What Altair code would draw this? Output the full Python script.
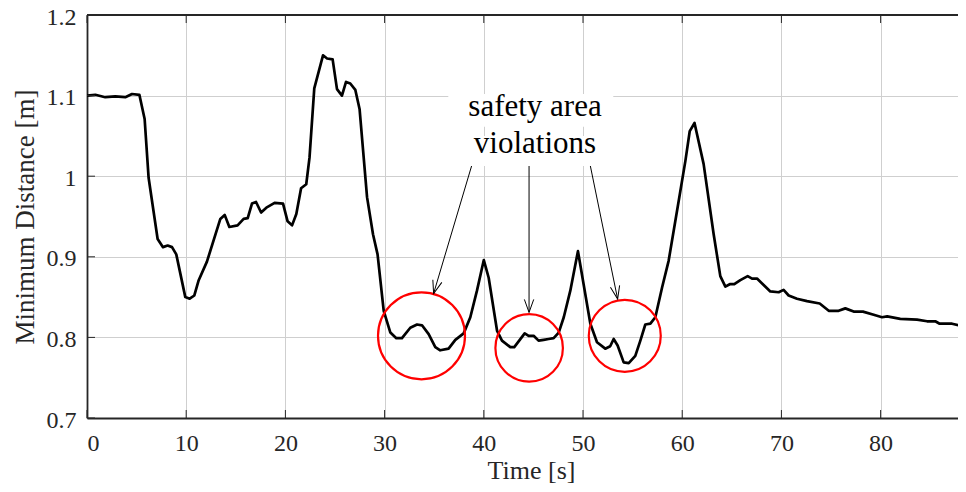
import math
import altair as alt
import pandas as pd

# ---- data ----
time_s = [0, 0.84, 1.84, 2.85, 3.86, 4.54, 5.28, 5.81, 6.21, 7.12, 7.66, 8.13, 8.57, 9.0,
          9.91, 10.35, 10.82, 11.26, 12.09, 13.44, 13.88, 14.35, 15.18, 15.79, 16.2, 16.63,
          17.04, 17.55, 18.08, 18.91, 19.76, 20.22, 20.67, 21.1, 21.58, 22.1, 22.43, 22.91,
          23.79, 24.2, 24.76, 25.2, 25.7, 26.11, 26.54, 27.05, 27.48, 28.23, 28.83, 29.29,
          29.91, 30.58, 31.18, 31.75, 32.59, 33.27, 33.77, 34.44, 35.11, 35.61, 36.45, 37.13,
          37.97, 38.64, 39.31, 40.0, 40.49, 41.34, 41.83, 42.67, 43.07, 43.51, 44.12, 44.52,
          45.02, 45.52, 46.03, 46.53, 47.04, 47.55, 48.06, 48.72, 49.49, 50.06, 50.74, 51.41,
          52.24, 52.74, 53.09, 53.49, 54.1, 54.61, 55.27, 55.78, 56.28, 56.79, 57.29, 57.97,
          58.63, 59.64, 60.32, 60.76, 61.24, 62.16, 63.17, 63.84, 64.35, 64.79, 65.25, 65.86,
          66.6, 67.04, 67.54, 68.21, 68.88, 69.72, 70.22, 70.73, 71.57, 72.58, 73.86, 74.77,
          75.77, 76.44, 77.28, 78.22, 79.3, 80.14, 80.66, 81.98, 83.67, 84.68, 85.51, 85.95,
          87.2, 88.2, 88.63]
min_dist = [1.100, 1.101, 1.098, 1.099, 1.098, 1.102, 1.101, 1.071, 0.998, 0.922, 0.912, 0.914,
            0.912, 0.903, 0.850, 0.848, 0.852, 0.871, 0.894, 0.947, 0.952, 0.937, 0.939, 0.947,
            0.948, 0.966, 0.968, 0.955, 0.961, 0.967, 0.966, 0.944, 0.939, 0.953, 0.985, 0.990,
            1.023, 1.109, 1.150, 1.146, 1.145, 1.108, 1.100, 1.117, 1.115, 1.107, 1.083, 0.974,
            0.928, 0.903, 0.833, 0.806, 0.799, 0.799, 0.812, 0.816, 0.815, 0.804, 0.788, 0.784,
            0.786, 0.797, 0.805, 0.825, 0.858, 0.896, 0.874, 0.808, 0.796, 0.788, 0.788, 0.795,
            0.805, 0.802, 0.802, 0.796, 0.797, 0.798, 0.799, 0.806, 0.825, 0.858, 0.907, 0.866,
            0.817, 0.794, 0.786, 0.789, 0.798, 0.790, 0.769, 0.768, 0.777, 0.796, 0.816, 0.817,
            0.825, 0.862, 0.895, 0.969, 1.019, 1.056, 1.066, 1.015, 0.928, 0.876, 0.863, 0.866,
            0.866, 0.871, 0.876, 0.873, 0.873, 0.865, 0.857, 0.856, 0.859, 0.852, 0.848, 0.845,
            0.842, 0.833, 0.833, 0.836, 0.832, 0.832, 0.828, 0.825, 0.826, 0.823, 0.822, 0.820,
            0.820, 0.817, 0.817, 0.814, 0.815]

x_ticks = [0, 10, 20, 30, 40, 50, 60, 70, 80]
y_ticks = [0.7, 0.8, 0.9, 1.0, 1.1, 1.2]

# annotation: circles (centre time, centre distance, diameter in px)
circle_t = [33.72, 44.57, 54.21]
circle_v = [0.802, 0.787, 0.802]
circle_d = [87, 67.5, 72]

# arrows from label to circles
arrow_t = [38.87, 44.56, 50.67]
arrow_v = [1.0169, 1.0169, 1.0169]
arrow_t2 = [34.94, 44.56, 53.49]
arrow_v2 = [0.8545, 0.831, 0.8476]

label_lines = ["safety area", "violations"]
label_t = [45.16, 45.16]
label_v = [1.0748, 1.0293]
box_t = [36.42, 38.14]
box_t2 = [53.05, 52.25]
box_v = [1.1021, 1.050]
box_v2 = [1.0612, 1.0128]

# ---- layout ----
W, H = 871, 403
X_MAX = 87.8
Y_MIN, Y_MAX = 0.7, 1.2
FONT = "Liberation Serif"
AX = "#262626"
GRID = "#cfcfcf"

xs = alt.Scale(domain=[0, X_MAX], nice=False, zero=False)
ys = alt.Scale(domain=[Y_MIN, Y_MAX], nice=False, zero=False)

x_axis = alt.Axis(values=x_ticks, format="d", grid=True, gridColor=GRID, gridWidth=1,
                  ticks=False, tickSize=0, domainColor=AX, domainWidth=1.8,
                  labelFont=FONT, labelFontSize=24, labelColor=AX,
                  labelBaseline="alphabetic", labelPadding=32,
                  title="Time [s]", titleFont=FONT, titleFontSize=26, titleFontWeight="normal",
                  titleColor=AX, titleX=444, titleY=60, titleAlign="center",
                  titleBaseline="alphabetic")
y_axis = alt.Axis(values=y_ticks, format=".1~f", grid=True, gridColor=GRID, gridWidth=1,
                  ticks=False, tickSize=0, domainColor=AX, domainWidth=1.8,
                  labelFont=FONT, labelFontSize=24, labelColor=AX,
                  labelBaseline="alphabetic", labelOffset=9, labelPadding=11,
                  title="Minimum Distance [m]", titleFont=FONT, titleFontSize=27,
                  titleFontWeight="normal", titleColor=AX, titleX=-54, titleY=H / 2,
                  titleAlign="center", titleBaseline="alphabetic", titleAngle=270)

df = pd.DataFrame({"t": time_s, "v": min_dist})
line = alt.Chart(df).mark_line(color="black", strokeWidth=2.7, clip=True,
                               strokeJoin="round").encode(
    x=alt.X("t:Q", scale=xs, axis=x_axis),
    y=alt.Y("v:Q", scale=ys, axis=y_axis),
)

circ_df = pd.DataFrame({"t": circle_t, "v": circle_v,
                        "s": [d * d for d in circle_d]})
circles = alt.Chart(circ_df).mark_point(shape="circle", filled=False, color="#ff0000",
                                        strokeWidth=2.2, opacity=1).encode(
    x=alt.X("t:Q", scale=xs, axis=x_axis),
    y=alt.Y("v:Q", scale=ys, axis=y_axis),
    size=alt.Size("s:Q", scale=None),
)

arr_df = pd.DataFrame({"t": arrow_t, "v": arrow_v, "t2": arrow_t2, "v2": arrow_v2})
# arrowhead direction in screen space
px_x = W / X_MAX
px_y = H / (Y_MAX - Y_MIN)
angles = []
for a, b, c, d in zip(arrow_t, arrow_v, arrow_t2, arrow_v2):
    dx = (c - a) * px_x
    dy = (b - d) * px_y
    ang = math.degrees(math.atan2(-dx, dy))
    angles.append(ang % 360)
arr_df["ang"] = angles

arrows = alt.Chart(arr_df).mark_rule(color="black", strokeWidth=1).encode(
    x=alt.X("t:Q", scale=xs, axis=x_axis),
    y=alt.Y("v:Q", scale=ys, axis=y_axis),
    x2="t2:Q", y2="v2:Q",
)
heads = alt.Chart(arr_df).mark_point(
    shape="M -0.36 -1 L 0 0 L 0.36 -1", filled=False, color="black",
    strokeWidth=1, size=676, opacity=1).encode(
    x=alt.X("t2:Q", scale=xs, axis=x_axis),
    y=alt.Y("v2:Q", scale=ys, axis=y_axis),
    angle=alt.Angle("ang:Q", scale=None),
)

box_df = pd.DataFrame({"t": box_t, "t2": box_t2, "v": box_v, "v2": box_v2})
boxes = alt.Chart(box_df).mark_rect(color="white").encode(
    x=alt.X("t:Q", scale=xs, axis=x_axis),
    y=alt.Y("v:Q", scale=ys, axis=y_axis),
    x2="t2:Q", y2="v2:Q",
)

txt_df = pd.DataFrame({"t": label_t, "v": label_v, "txt": label_lines})
texts = alt.Chart(txt_df).mark_text(font=FONT, fontSize=31, color="black",
                                    align="center", baseline="alphabetic").encode(
    x=alt.X("t:Q", scale=xs, axis=x_axis),
    y=alt.Y("v:Q", scale=ys, axis=y_axis),
    text="txt:N",
)

xt_df = pd.DataFrame({"t": x_ticks})
yt_df = pd.DataFrame({"v": y_ticks})
TK = 8
xticks_bot = alt.Chart(xt_df).mark_rule(color=AX, strokeWidth=1).encode(
    x=alt.X("t:Q", scale=xs, axis=x_axis), y=alt.value(H), y2=alt.value(H - TK))
xticks_top = alt.Chart(xt_df).mark_rule(color=AX, strokeWidth=1).encode(
    x=alt.X("t:Q", scale=xs, axis=x_axis), y=alt.value(0), y2=alt.value(TK))
yticks = alt.Chart(yt_df).mark_rule(color=AX, strokeWidth=1).encode(
    y=alt.Y("v:Q", scale=ys, axis=y_axis), x=alt.value(0), x2=alt.value(TK))
top_border = alt.Chart(xt_df).mark_rule(color=AX, strokeWidth=1.8).encode(
    x=alt.value(0), x2=alt.value(W), y=alt.value(0))

chart = alt.layer(
    line, circles, arrows, heads, boxes, texts,
    xticks_bot, xticks_top, yticks, top_border,
).properties(
    width=W, height=H,
    autosize=alt.AutoSizeParams(type="none"),
    padding={"left": 79, "top": 7, "right": 0, "bottom": 70},
    background="white",
).configure_view(stroke=None)

chart.save("out.html", embed_options={"renderer": "svg", "actions": False})
